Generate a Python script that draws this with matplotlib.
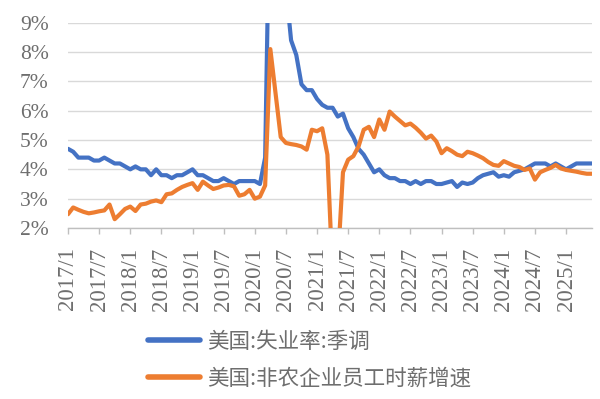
import glob
import matplotlib
matplotlib.use("Agg")
import matplotlib.pyplot as plt
from matplotlib import font_manager
from matplotlib.font_manager import FontProperties
from matplotlib.ticker import FixedLocator

_cands = (glob.glob("/usr/share/fonts/**/LiberationSerif-Regular.ttf", recursive=True)
          + glob.glob("/usr/share/fonts/**/DejaVuSerif.ttf", recursive=True))
if _cands:
    font_manager.fontManager.addfont(_cands[0])
    Y_FP = FontProperties(fname=_cands[0], size=15.5)
    X_FP = FontProperties(fname=_cands[0], size=16.5)
else:
    Y_FP = FontProperties(family="serif", size=15.5)
    X_FP = FontProperties(family="serif", size=16.5)

# Months 2017/1 .. 2025/6
months = [f"{y}/{m}" for y in range(2017, 2026) for m in range(1, 13)][:102]

unemployment = [
    4.7, 4.6, 4.4, 4.4, 4.4, 4.3, 4.3, 4.4, 4.3, 4.2, 4.2, 4.1,
    4.0, 4.1, 4.0, 4.0, 3.8, 4.0, 3.8, 3.8, 3.7, 3.8, 3.8, 3.9,
    4.0, 3.8, 3.8, 3.7, 3.6, 3.6, 3.7, 3.6, 3.5, 3.6, 3.6, 3.6,
    3.6, 3.5, 4.4, 14.7, 13.2, 11.0, 10.2, 8.4, 7.9, 6.9, 6.7, 6.7,
    6.4, 6.2, 6.1, 6.1, 5.8, 5.9, 5.4, 5.1, 4.7, 4.5, 4.2, 3.9,
    4.0, 3.8, 3.7, 3.7, 3.6, 3.6, 3.5, 3.6, 3.5, 3.6, 3.6, 3.5,
    3.5, 3.55, 3.6, 3.4, 3.55, 3.5, 3.55, 3.7, 3.8, 3.85, 3.9, 3.75,
    3.8, 3.75, 3.9, 3.95, 4.0, 4.1, 4.2, 4.2, 4.2, 4.1, 4.2, 4.1,
    4.0, 4.1, 4.2, 4.2, 4.2, 4.2,
]

wage_growth = [
    2.47, 2.7, 2.62, 2.55, 2.5, 2.53, 2.57, 2.6, 2.8, 2.3, 2.47, 2.65,
    2.73, 2.58, 2.8, 2.83, 2.9, 2.94, 2.88, 3.15, 3.18, 3.3, 3.4, 3.47,
    3.53, 3.3, 3.58, 3.45, 3.33, 3.38, 3.45, 3.47, 3.42, 3.1, 3.15, 3.3,
    3.0, 3.07, 3.45, 8.1, 6.6, 5.1, 4.9, 4.86, 4.83, 4.78, 4.67, 5.35,
    5.3, 5.4, 4.5, 0.4, 0.8, 3.9, 4.33, 4.45, 4.78, 5.35, 5.45, 5.1,
    5.7, 5.35, 5.97, 5.8, 5.65, 5.5, 5.56, 5.42, 5.25, 5.05, 5.15, 4.95,
    4.55, 4.72, 4.62, 4.5, 4.45, 4.6, 4.55, 4.47, 4.38, 4.25, 4.15, 4.12,
    4.28, 4.2, 4.12, 4.08, 3.98, 4.03, 3.65, 3.9, 3.98, 4.05, 4.15, 4.03,
    3.98, 3.95, 3.92, 3.88, 3.85, 3.85,
]

tick_labels = ["2017/1", "2017/7", "2018/1", "2018/7", "2019/1", "2019/7",
               "2020/1", "2020/7", "2021/1", "2021/7", "2022/1", "2022/7",
               "2023/1", "2023/7", "2024/1", "2024/7", "2025/1"]
y_ticks = [2, 3, 4, 5, 6, 7, 8, 9]
series_names = ["美国:失业率:季调", "美国:非农企业员工时薪增速"]

BLUE = "#4472C4"
ORANGE = "#ED7D31"
GRID = "#D9D9D9"
TXT = "#6E6E6E"

fig = plt.figure(figsize=(6.0, 3.99), dpi=100)
ax = fig.add_axes([68 / 600, 1 - 228 / 399, (592 - 68) / 600, (228 - 22.7) / 399])

x = list(range(len(months)))
l1, = ax.plot(x, unemployment, color=BLUE, lw=3.0, solid_capstyle="round",
              solid_joinstyle="round", zorder=3)
l2, = ax.plot(x, wage_growth, color=ORANGE, lw=3.0, solid_capstyle="round",
              solid_joinstyle="round", zorder=4)

ax.set_xlim(0, len(months) - 1)
ax.set_ylim(2, 9)

for s in ["top", "right", "left"]:
    ax.spines[s].set_visible(False)
ax.spines["bottom"].set_color("#BFBFBF")
ax.spines["bottom"].set_linewidth(1.0)
ax.grid(axis="y", color=GRID, lw=1.0, zorder=0)
ax.set_axisbelow(True)

ax.tick_params(axis="y", length=0, pad=14, labelcolor=TXT)
ax.tick_params(axis="x", length=4, width=1, color="#BFBFBF", pad=10,
               labelcolor=TXT)

ax.set_yticks(y_ticks)
ax.set_yticklabels([f"{v}%" for v in y_ticks], fontproperties=Y_FP, color=TXT)
tick_pos = [months.index(t) for t in tick_labels]
ax.xaxis.set_major_locator(FixedLocator(tick_pos))
ax.set_xticklabels(tick_labels, fontproperties=X_FP, rotation=90, color=TXT)

leg = fig.legend([l1, l2], series_names, loc="center left",
                 bbox_to_anchor=(148 / 600, 1 - 360 / 399), frameon=False,
                 borderpad=0, borderaxespad=0, handlelength=2.4,
                 handletextpad=0.35, labelspacing=0.7,
                 prop={"family": ["Noto Sans CJK SC", "DejaVu Sans"], "size": 15.5})
for t in leg.get_texts():
    t.set_color(TXT)
for h in leg.get_lines():
    h.set_linewidth(4)

fig.savefig("out.png", dpi=100)
